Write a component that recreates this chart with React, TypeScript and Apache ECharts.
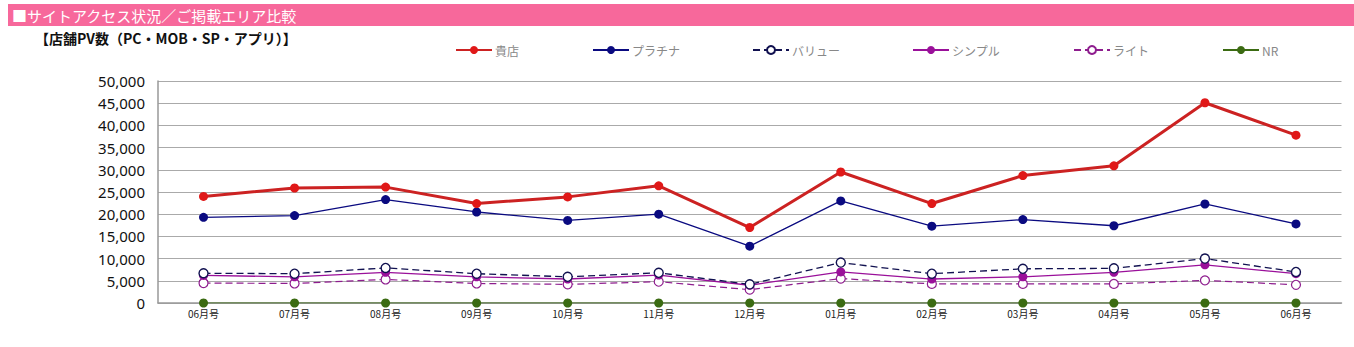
import React, { useEffect, useRef } from "react";
import * as echarts from "echarts";

const categories = ["06月号", "07月号", "08月号", "09月号", "10月号", "11月号", "12月号", "01月号", "02月号", "03月号", "04月号", "05月号", "06月号"];
const kiten = [24000, 25900, 26100, 22400, 23900, 26400, 17000, 29500, 22400, 28700, 30900, 45100, 37800];
const platina = [19300, 19700, 23300, 20500, 18600, 20000, 12800, 23000, 17300, 18800, 17400, 22300, 17800];
const value = [6700, 6600, 7900, 6600, 5900, 6800, 4200, 9100, 6600, 7700, 7800, 10000, 7000];
const simple = [6200, 5900, 6900, 5900, 5400, 6300, 4000, 7000, 5400, 5900, 6900, 8600, 6600];
const light = [4500, 4400, 5300, 4400, 4200, 4800, 3000, 5500, 4300, 4300, 4300, 5100, 4100];
const nr = [0, 0, 0, 0, 0, 0, 0, 0, 0, 0, 0, 0, 0];
const yTicks = { min: 0, max: 50000, interval: 5000 };

const legendLefts = [450, 587, 747, 907, 1068, 1217];

export default function App() {
  const ref = useRef<HTMLDivElement>(null);
  useEffect(() => {
    if (!ref.current) return;
    const chart = echarts.init(ref.current, null, { renderer: "svg" });
    const names = ["貴店", "プラチナ", "バリュー", "シンプル", "ライト", "NR"];
    chart.setOption({
      animation: false,
      backgroundColor: "#ffffff",
      graphic: [
        { type: "rect", shape: { x: 8, y: 4, width: 1346, height: 22 }, style: { fill: "#f7689b" } },
        { type: "text", x: 12, y: 15, style: { text: "■サイトアクセス状況／ご掲載エリア比較", fill: "#ffffff", font: "15px 'Noto Sans CJK JP'", verticalAlign: "middle" } },
        { type: "text", x: 35, y: 38, style: { text: "【店舗PV数（PC・MOB・SP・アプリ）】", fill: "#111111", font: "bold 14px 'Noto Sans CJK JP'", verticalAlign: "middle" } },
      ],
      legend: names.map((n, i) => ({
        data: [n],
        left: legendLefts[i],
        top: 39,
        itemWidth: 36,
        itemHeight: 10,
        itemGap: 4,
        textStyle: { color: "#888888", fontSize: 12, fontFamily: "'Noto Sans CJK JP'", padding: [0, 0, 0, -2] },
      })),
      grid: { left: 158, right: 12.5, top: 81, bottom: 44, containLabel: false },
      xAxis: {
        type: "category",
        data: categories,
        boundaryGap: true,
        axisTick: { show: false },
        axisLine: { lineStyle: { color: "#999999", width: 1.5 } },
        axisLabel: { color: "#222222", fontSize: 10, margin: 5, fontFamily: "'Noto Sans CJK JP'" },
      },
      yAxis: {
        type: "value",
        min: yTicks.min,
        max: yTicks.max,
        interval: yTicks.interval,
        axisLine: { show: true, lineStyle: { color: "#999999", width: 1.5 } },
        axisTick: { show: false },
        splitLine: { lineStyle: { color: "#aaaaaa", width: 1 } },
        axisLabel: {
          color: "#111111",
          fontSize: 15,
          margin: 13,
          fontFamily: "'Noto Sans', sans-serif",
          formatter: (v: number) => v.toLocaleString("en-US"),
        },
      },
      series: [
        {
          name: "NR", type: "line", data: nr, symbol: "circle", symbolSize: 9, z: 1,
          itemStyle: { color: "#3b6b12" }, lineStyle: { color: "#3b6b12", width: 1.2 },
        },
        {
          name: "ライト", type: "line", data: light, symbol: "circle", symbolSize: 9, z: 2,
          itemStyle: { color: "#ffffff", borderColor: "#8e1d8e", borderWidth: 1.2 },
          lineStyle: { color: "#8e1d8e", width: 1.2, type: [7, 4] },
        },
        {
          name: "シンプル", type: "line", data: simple, symbol: "circle", symbolSize: 9, z: 3,
          itemStyle: { color: "#9a109a" }, lineStyle: { color: "#9a109a", width: 1.3 },
        },
        {
          name: "バリュー", type: "line", data: value, symbol: "circle", symbolSize: 9, z: 4,
          itemStyle: { color: "#ffffff", borderColor: "#111150", borderWidth: 1.4 },
          lineStyle: { color: "#111150", width: 1.3, type: [7, 4] },
        },
        {
          name: "プラチナ", type: "line", data: platina, symbol: "circle", symbolSize: 9, z: 5,
          itemStyle: { color: "#0a0a80" }, lineStyle: { color: "#0a0a80", width: 1.3 },
        },
        {
          name: "貴店", type: "line", data: kiten, symbol: "circle", symbolSize: 9, z: 6,
          itemStyle: { color: "#e01818" }, lineStyle: { color: "#cc2222", width: 3 },
        },
      ],
    });
    return () => chart.dispose();
  }, []);
  return (
    <div
      ref={ref}
      style={{ position: "fixed", left: 0, top: 0, width: 1354, height: 347 }}
    />
  );
}
